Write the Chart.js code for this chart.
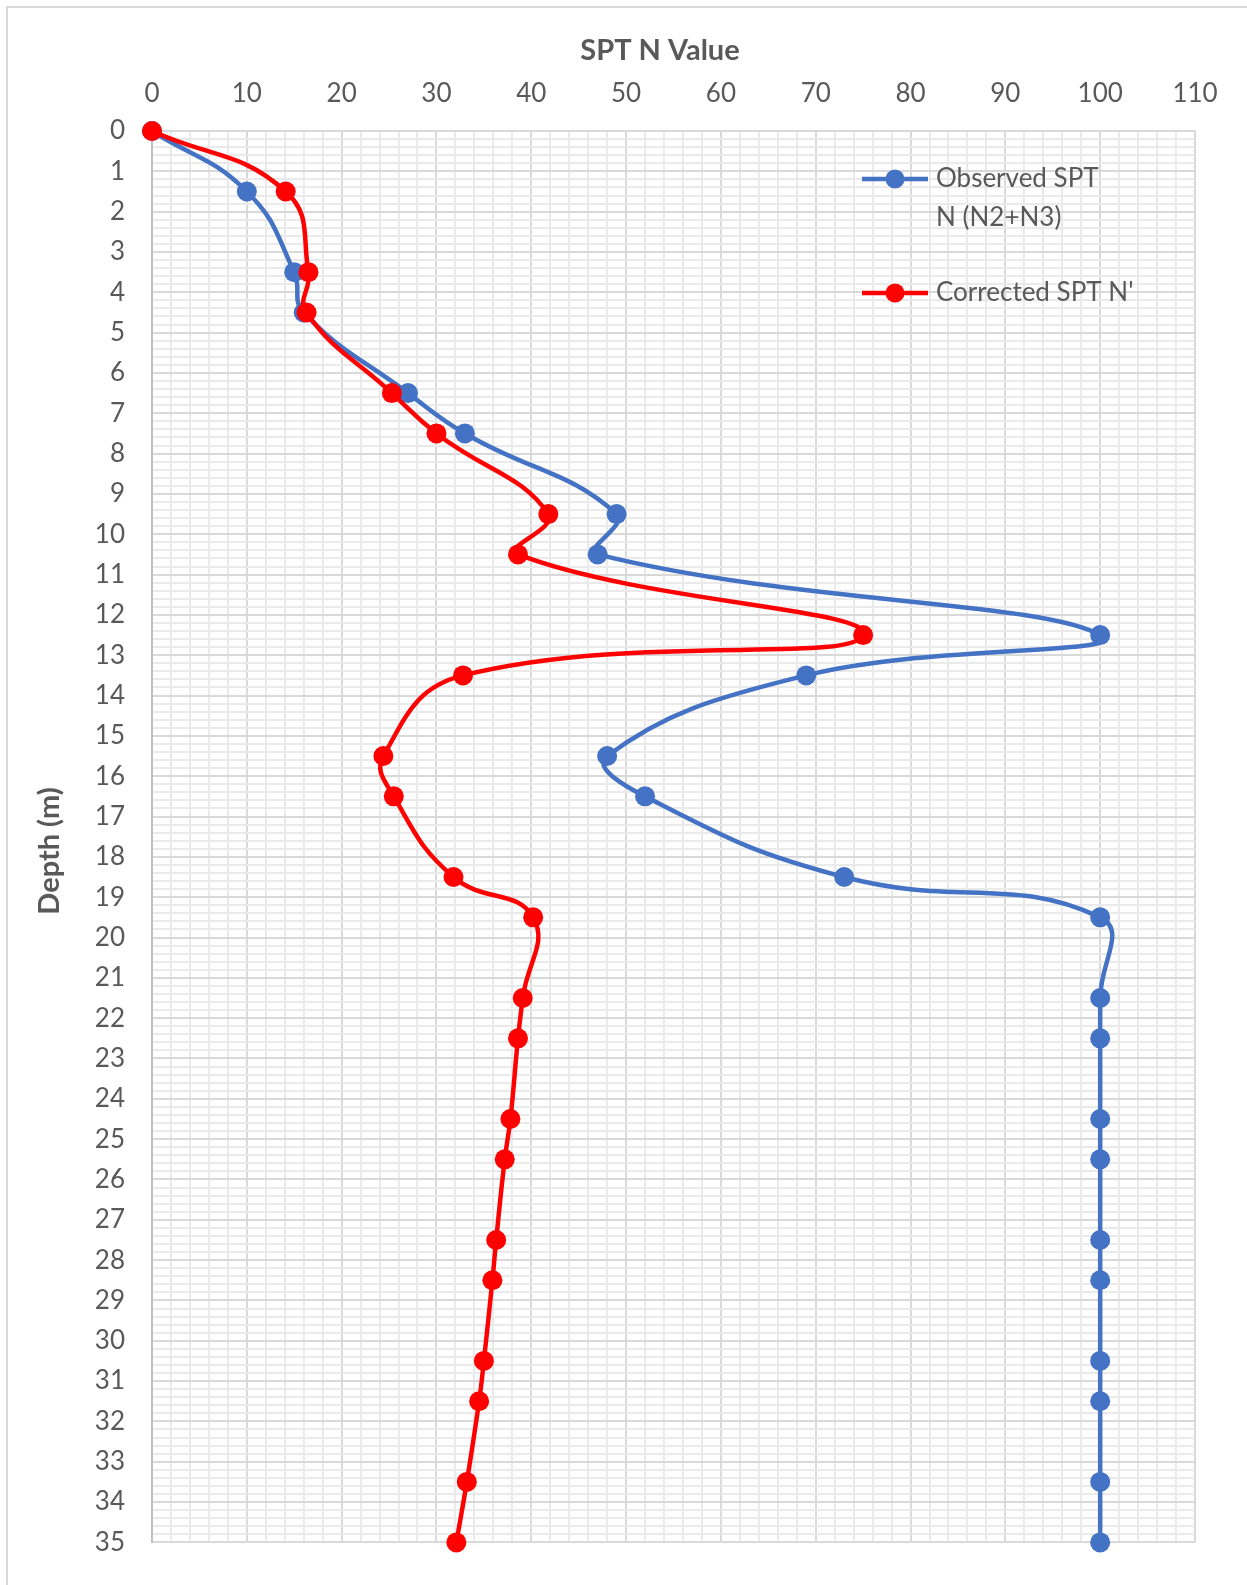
<!DOCTYPE html>
<html>
<head>
<meta charset="utf-8">
<title>SPT N Value vs Depth</title>
<script src="https://cdn.jsdelivr.net/npm/chart.js@4.4.1/dist/chart.umd.min.js"></script>
<style>
  html, body { margin: 0; padding: 0; background: #ffffff; }
  canvas { display: block; }
</style>
</head>
<body>
<canvas id="spt" width="1247" height="1585"></canvas>
<script>
// Test depths (m), shared by both series
const depths = [0, 1.5, 3.5, 4.5, 6.5, 7.5, 9.5, 10.5, 12.5, 13.5, 15.5, 16.5, 18.5, 19.5,
                21.5, 22.5, 24.5, 25.5, 27.5, 28.5, 30.5, 31.5, 33.5, 35];

// Observed SPT N (N2+N3)
const observedN = [0, 10, 15, 16, 27, 33, 49, 47, 100, 69, 48, 52, 73, 100,
                   100, 100, 100, 100, 100, 100, 100, 100, 100, 100];

// Corrected SPT N'
const correctedN = [0, 14.1, 16.5, 16.3, 25.3, 30, 41.8, 38.6, 75, 32.8, 24.4, 25.5, 31.8, 40.2,
                    39.1, 38.6, 37.8, 37.2, 36.3, 35.9, 35.0, 34.5, 33.2, 32.1];

// Legend text, one entry per series (lines as wrapped in the legend)
const seriesNames = [["Observed SPT", "N (N2+N3)"], ["Corrected SPT N'"]];
const seriesColors = ["#4472C4", "#FF0000"];

const xTitle = "SPT N Value";
const yTitle = "Depth (m)";

const FONT = "Lato, 'Open Sans', sans-serif";
const TEXT = "#595959";

function toPoints(xs, ys) {
  return xs.map((v, i) => ({ x: v, y: ys[i] }));
}

function isWhole(v) { return Math.abs(v - Math.round(v)) < 1e-6; }

// Outer frame, axis titles and the in-plot legend
const decorations = {
  id: "decorations",
  beforeDraw(chart) {
    const ctx = chart.ctx;
    ctx.save();
    ctx.strokeStyle = "#d9d9d9";
    ctx.lineWidth = 2;
    ctx.beginPath();
    ctx.moveTo(7, chart.height);
    ctx.lineTo(7, 7);
    ctx.lineTo(chart.width, 7);
    ctx.stroke();
    ctx.restore();
  },
  afterDatasetsDraw(chart) {
    const ctx = chart.ctx;
    ctx.save();
    ctx.fillStyle = TEXT;
    ctx.textAlign = "center";
    ctx.textBaseline = "middle";
    ctx.font = "bold 29px " + FONT;
    ctx.fillText(xTitle, 660, 51);

    ctx.save();
    ctx.translate(50, 851);
    ctx.rotate(-Math.PI / 2);
    ctx.fillText(yTitle, 0, 0);
    ctx.restore();

    // legend
    const rowsY = [179, 293];
    ctx.font = "26px " + FONT;
    ctx.textAlign = "left";
    chart.data.datasets.forEach((ds, i) => {
      const y = rowsY[i];
      ctx.strokeStyle = ds.borderColor;
      ctx.lineWidth = 4.5;
      ctx.beginPath();
      ctx.moveTo(862, y);
      ctx.lineTo(928, y);
      ctx.stroke();
      ctx.fillStyle = ds.borderColor;
      ctx.beginPath();
      ctx.arc(895, y, 9.5, 0, Math.PI * 2);
      ctx.fill();
      ctx.fillStyle = TEXT;
      seriesNames[i].forEach((line, k) => {
        ctx.fillText(line, 936, y + k * 39);
      });
    });
    ctx.restore();
  }
};

const gridColor = (ctx, majorTest) =>
  majorTest(ctx.tick.value) ? "#d9d9d9" : "#eaeaea";

new Chart(document.getElementById("spt"), {
  type: "scatter",
  data: {
    datasets: [
      {
        label: seriesNames[0].join(" "),
        data: toPoints(observedN, depths),
        showLine: true,
        borderColor: seriesColors[0],
        backgroundColor: seriesColors[0],
        borderWidth: 4.5,
        pointRadius: 10,
        pointBorderWidth: 0,
        tension: 0.45,
        clip: false,
        order: 1
      },
      {
        label: seriesNames[1].join(" "),
        data: toPoints(correctedN, depths),
        showLine: true,
        borderColor: seriesColors[1],
        backgroundColor: seriesColors[1],
        borderWidth: 4.5,
        pointRadius: 10,
        pointBorderWidth: 0,
        tension: 0.45,
        clip: false,
        order: 0
      }
    ]
  },
  options: {
    responsive: false,
    animation: false,
    layout: { padding: { left: 0, top: 0, right: 52, bottom: 42 } },
    plugins: {
      legend: { display: false },
      tooltip: { enabled: false },
      title: { display: false }
    },
    scales: {
      x: {
        type: "linear",
        position: "top",
        min: 0,
        max: 110,
        ticks: {
          stepSize: 2,
          autoSkip: false,
          maxRotation: 0,
          padding: 22,
          color: TEXT,
          font: { family: FONT, size: 26 },
          callback: v => (v % 10 === 0 ? String(v) : "")
        },
        grid: {
          drawTicks: false,
          lineWidth: 2,
          color: ctx => gridColor(ctx, v => v % 10 === 0)
        },
        border: { display: true, color: "#d9d9d9", width: 2 },
        afterFit: s => { s.height = 131; }
      },
      y: {
        type: "linear",
        reverse: true,
        min: 0,
        max: 35,
        ticks: {
          stepSize: 0.2,
          autoSkip: false,
          padding: 27,
          color: TEXT,
          font: { family: FONT, size: 26 },
          callback: v => (isWhole(v) ? String(Math.round(v)) : "")
        },
        grid: {
          drawTicks: false,
          lineWidth: 2,
          color: ctx => gridColor(ctx, isWhole)
        },
        border: { display: true, color: "#bfbfbf", width: 2 },
        afterFit: s => { s.width = 152; }
      }
    }
  },
  plugins: [decorations]
});
</script>
</body>
</html>
